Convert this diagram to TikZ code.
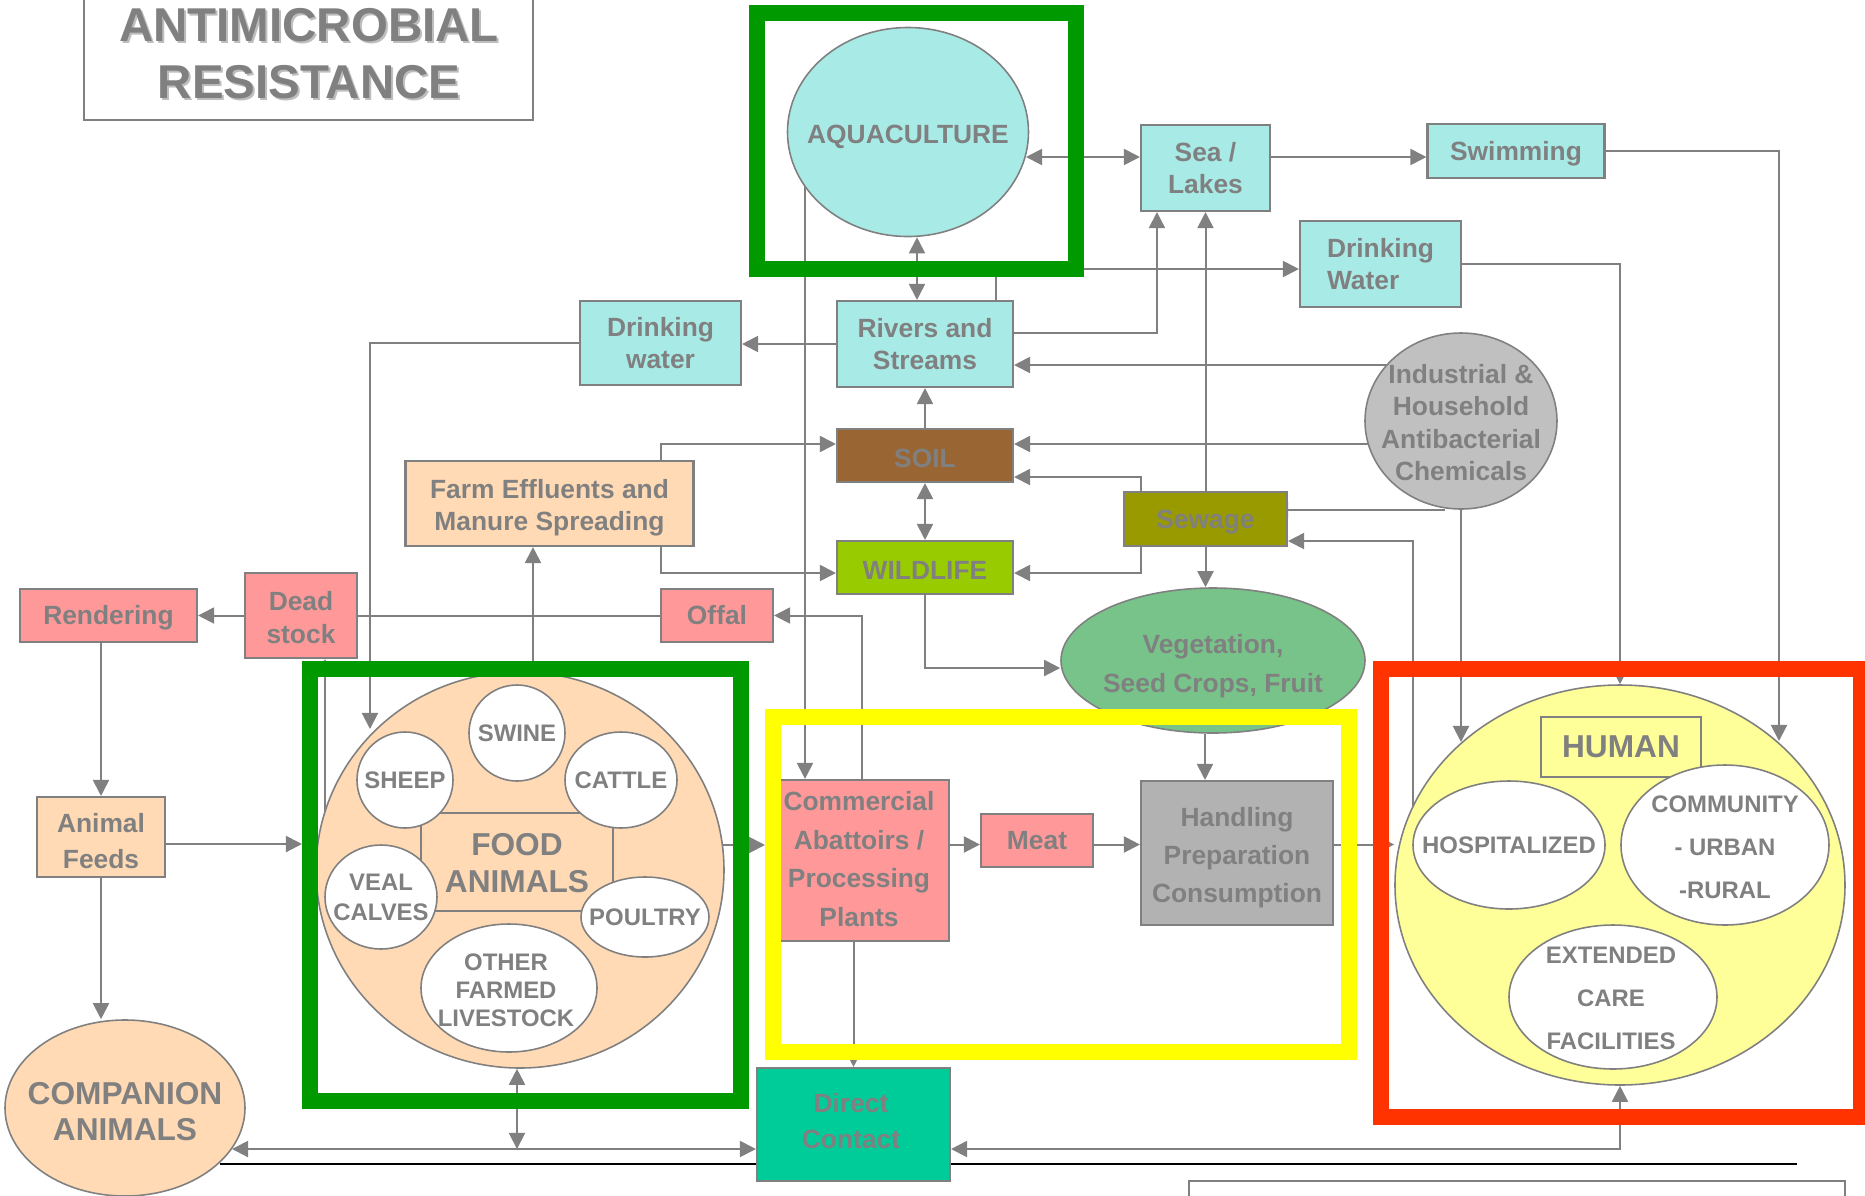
\documentclass[tikz,border=0pt]{standalone}
\usepackage{fontspec}
\setmainfont{Liberation Sans}
\usetikzlibrary{shapes.geometric,arrows.meta}

\definecolor{linegray}{RGB}{128,128,128}
\definecolor{shadowgray}{RGB}{190,190,190}
\definecolor{aquafill}{RGB}{168,234,230}
\definecolor{pinkfill}{RGB}{255,153,153}
\definecolor{peachfill}{RGB}{255,218,181}
\definecolor{soilfill}{RGB}{153,102,51}
\definecolor{wildfill}{RGB}{153,204,0}
\definecolor{sewfill}{RGB}{153,153,0}
\definecolor{vegfill}{RGB}{119,195,137}
\definecolor{handfill}{RGB}{178,178,178}
\definecolor{chemfill}{RGB}{192,192,192}
\definecolor{directfill}{RGB}{0,204,153}
\definecolor{humanfill}{RGB}{255,255,153}
\definecolor{framegreen}{RGB}{0,153,0}
\definecolor{frameyellow}{RGB}{255,255,0}
\definecolor{framered}{RGB}{255,51,0}

\pgfdeclarelayer{background}
\pgfsetlayers{background,main}

\tikzset{
  sz/.style 2 args={minimum width=#1*0.01cm, minimum height=#2*0.01cm},
  lead/.style={font=\fontsize{7.5}{#1}\selectfont\bfseries},
  flowbox/.style={draw=linegray, line width=0.6pt, inner sep=0pt, align=center, text=linegray, lead=9.2},
  oval/.style={ellipse, draw=linegray, line width=0.45pt, inner sep=0pt},
  lbl/.style={inner sep=0pt, align=center, text=linegray, lead=9.2},
  inlbl/.style={lbl, font=\fontsize{6.8}{#1}\selectfont\bfseries},
  biglbl/.style={lbl, font=\fontsize{9}{#1}\selectfont\bfseries},
  titletxt/.style={inner sep=0pt, align=center, text=linegray, font=\fontsize{13.5}{16.2}\selectfont\bfseries},
  zone/.style={draw=#1, line width=4.55pt, inner sep=0pt},
  conn/.style={draw=linegray, line width=0.57pt},
  arr/.style={conn, -{Triangle[length=4.6pt,width=4.6pt]}},
  dblarr/.style={conn, {Triangle[length=4.6pt,width=4.6pt]}-{Triangle[length=4.6pt,width=4.6pt]}},
}

\begin{document}
\begin{tikzpicture}[x=0.01cm, y=-0.01cm]
\useasboundingbox (0,0) rectangle (1865,1196);

% title
\node[draw=linegray, line width=0.5pt, sz={449}{135}] (titlebox) at (308.5,52.5) {};
\node[titletxt, text=shadowgray] (titleshadow) at (311,56) {ANTIMICROBIAL\\RESISTANCE};
\node[titletxt] (title) at (309,53.5) {ANTIMICROBIAL\\RESISTANCE};

% water
\node[oval, fill=aquafill, sz={241}{209}] (aqua) at (908,132) {};
\node[lbl] (aquatxt) at (908,137) {AQUACULTURE};
\node[flowbox, fill=aquafill, sz={129}{86}] (sea) at (1205.5,168) {Sea /\\Lakes};
\node[flowbox, fill=aquafill, sz={177}{54}] (swim) at (1516,151) {};
\node[lbl] (swimtxt) at (1516,154) {Swimming};
\node[flowbox, fill=aquafill, sz={161}{86}, align=left] (drinkr) at (1380.5,264) {Drinking\\Water};
\node[flowbox, fill=aquafill, sz={176}{86}] (rivers) at (925,344) {Rivers and\\Streams};
\node[flowbox, fill=aquafill, sz={161}{84}] (drinkl) at (660.5,343) {Drinking\\water};

% environment
\node[flowbox, fill=soilfill, sz={176}{53}] (soil) at (925,455.5) {};
\node[lbl] (soiltxt) at (925,458) {SOIL};
\node[flowbox, fill=wildfill, sz={176}{53}] (wildlife) at (925,567.5) {};
\node[lbl] (wildtxt) at (925,570) {WILDLIFE};
\node[oval, fill=chemfill, sz={192}{176}] (chem) at (1461,421) {};
\node[lbl] (chemtxt) at (1461,422.5) {Industrial \&\\Household\\Antibacterial\\Chemicals};
\node[flowbox, fill=sewfill, sz={163}{54}] (sewage) at (1205.5,519) {};
\node[lbl] (sewtxt) at (1205.5,522) {Sewage};
\node[oval, fill=vegfill, sz={304}{145}] (veg) at (1213,660.5) {};
\node[lbl, lead=11.1] (vegtxt) at (1213,666) {Vegetation,\\Seed Crops, Fruit};
\node[flowbox, fill=peachfill, sz={288}{85}] (farm) at (549.5,503.5) {};
\node[lbl] (farmtxt) at (549.5,507.5) {Farm Effluents and\\Manure Spreading};

% animal side
\node[flowbox, fill=pinkfill, sz={112}{53}] (offal) at (717,615.5) {Offal};
\node[flowbox, fill=pinkfill, sz={112}{85}] (dead) at (301,615.5) {};
\node[lbl] (deadtxt) at (301,617.5) {Dead\\stock};
\node[flowbox, fill=pinkfill, sz={177}{53}] (render) at (108.5,615.5) {};
\node[lbl] (rendertxt) at (108.5,618) {Rendering};
\node[flowbox, fill=peachfill, sz={128}{80}] (feeds) at (101,837) {};
\node[lbl, lead=10] (feedstxt) at (101,841) {Animal\\Feeds};
\node[oval, fill=peachfill, sz={240}{176}] (compan) at (125,1108) {};
\node[biglbl=10.2] (compantxt) at (125,1112) {COMPANION\\ANIMALS};

\node[oval, fill=peachfill, sz={408}{396}] (food) at (520,870) {};
\node[draw=linegray, line width=0.45pt, sz={192}{98}] (foodbox) at (517,862) {};
\node[biglbl=10.5] (foodtxt) at (517,863) {FOOD\\ANIMALS};
\node[oval, fill=white, sz={96}{96}] (swine) at (517,733) {};
\node[oval, fill=white, sz={96}{96}] (sheep) at (405,780) {};
\node[oval, fill=white, sz={112}{96}] (cattle) at (621,780) {};
\node[oval, fill=white, sz={112}{104}] (veal) at (381,897) {};
\node[oval, fill=white, sz={128}{80}] (poultry) at (645,917) {};
\node[oval, fill=white, sz={176}{128}] (other) at (509,988) {};
\node[inlbl=8.5] (swinetxt) at (swine) {SWINE};
\node[inlbl=8.5] (sheeptxt) at (sheep) {SHEEP};
\node[inlbl=8.5] (cattletxt) at (cattle) {CATTLE};
\node[inlbl=8.5] (vealtxt) at (veal) {VEAL\\CALVES};
\node[inlbl=8.5] (poultrytxt) at (poultry) {POULTRY};
\node[inlbl=8] (othertxt) at (506,990) {OTHER\\FARMED\\LIVESTOCK};

% food chain
\node[flowbox, fill=pinkfill, sz={174}{161}, lead=11] (abat) at (862,860.5) {};
\node[lbl, lead=11] (abattxt) at (859,859) {Commercial\\Abattoirs /\\Processing\\Plants};
\node[flowbox, fill=pinkfill, sz={112}{53}] (meat) at (1037,840.5) {Meat};
\node[flowbox, fill=handfill, sz={192}{144}] (handling) at (1237,853) {};
\node[lbl, lead=10.8] (handtxt) at (1237,858) {Handling\\Preparation\\Consumption};
\node[flowbox, fill=directfill, sz={193}{113}] (direct) at (853.5,1124.5) {};
\node[lbl, lead=10.4] (directtxt) at (851,1121) {Direct\\Contact};

% human
\node[oval, fill=humanfill, sz={450}{400}] (human) at (1620,885) {};
\node[draw=linegray, line width=0.5pt, inner sep=0pt, sz={160}{60}, text=linegray, font=\fontsize{9}{10}\selectfont\bfseries] (humantxt) at (1621,747) {HUMAN};
\node[oval, fill=white, sz={192}{128}] (hosp) at (1509,845) {};
\node[oval, fill=white, sz={208}{160}] (commun) at (1725,845) {};
\node[oval, fill=white, sz={208}{144}] (extcare) at (1613,997) {};
\node[inlbl=12.2] (hosptxt) at (hosp) {HOSPITALIZED};
\node[inlbl=12.2] (communtxt) at (1725,847) {COMMUNITY\\- URBAN\\-RURAL};
\node[inlbl=12.2] (extcaretxt) at (1611,998) {EXTENDED\\CARE\\FACILITIES};

% coloured frames
\node[zone=framegreen, sz={319}{256}] (aquazone) at (916.5,141) {};
\node[zone=framegreen, sz={431}{432}] (foodzone) at (525.5,885) {};
\node[zone=frameyellow, sz={576}{335}] (chainzone) at (1061,884.5) {};
\node[zone=framered, sz={480}{448}] (humanzone) at (1621,893) {};

% free ends on the ovals
\coordinate (aqsea) at (1026,157);
\coordinate (aqabat) at (805,175);
\coordinate (swimhum) at (1779,741);
\coordinate (chemriv) at (1400,365);
\coordinate (chemsoil) at (1380,444);
\coordinate (chemhum) at (1461,742);
\coordinate (humsew) at (1413,815);
\coordinate (farmfoot) at (533,680);
\coordinate (fooddead) at (325,815);
\coordinate (drinkfood) at (370,729);
\coordinate (foodabat) at (715,845);
\coordinate (compdir) at (232,1149);

\begin{pgfonlayer}{background}
\draw[black, line width=0.5pt] (220,1164) -- (1797,1164);
\draw[linegray, line width=0.6pt] (1189,1210) |- (1845,1181) -- (1845,1210);

% water
\draw[dblarr] (aqsea) -- (aqsea -| sea.west);
\draw[arr] ([yshift=0.11cm]sea.east) -- ([yshift=0.11cm]sea.east -| swim.west);
\draw[arr] (swim.east) -| (swimhum);
\draw[arr] ([xshift=0.71cm]rivers.north) |- ([yshift=-0.05cm]drinkr.west);
\draw[arr] (drinkr.east) -| (human.north);
\draw[dblarr] ([xshift=-0.08cm]rivers.north) -- ([xshift=-0.08cm]rivers.north |- aqua.south);
\draw[arr] (rivers.west) -- (rivers.west -| drinkl.east);
\draw[arr] ([yshift=0.11cm]rivers.east) -| ([xshift=-0.485cm]sea.south);
\draw[arr] (soil.north) -- (rivers.south);
\draw[arr] (aqabat) -- (aqabat |- abat.north);

% chemicals and sewage
\draw[arr] (chemriv) -- (chemriv -| rivers.east);
\draw[arr] (chemsoil) -- (chemsoil -| soil.east);
\draw[arr] ([xshift=-0.16cm]chem.south) -- ([xshift=-0.16cm]chem.south -| sewage.east);
\draw[arr] (chem.south) -- (chemhum);
\draw[arr] (humsew) |- ([yshift=-0.22cm]sewage.east);
\draw[arr] (sewage.north) -- (sea.south);
\draw[arr] (sewage.south) -- (sewage.south |- veg.north);
\draw[arr] ([xshift=-0.645cm]sewage.north) |- ([yshift=-0.215cm]soil.east);
\draw[arr] ([xshift=-0.645cm]sewage.south) |- ([yshift=-0.055cm]wildlife.east);
\draw[dblarr] (soil.south) -- (wildlife.north);
\draw[arr] (wildlife.south) |- ([yshift=-0.075cm]veg.west);
\draw[arr] ([xshift=-0.08cm]veg.south) -- ([xshift=-0.08cm]veg.south |- handling.north);

% farm
\draw[arr] (farmfoot) -- (farmfoot |- farm.south);
\draw[arr] ([xshift=1.115cm]farm.north) |- ([yshift=0.115cm]soil.west);
\draw[arr] ([xshift=1.115cm]farm.south) |- ([yshift=-0.055cm]wildlife.west);
\draw[arr] (abat.north) |- (offal.east);
\draw[conn] (offal.west) -- (dead.east);
\draw[arr] (dead.west) -- (render.east);
\draw[arr] (fooddead) -- (fooddead |- dead.south);
\draw[arr] (drinkl.west) -| (drinkfood);
\draw[arr] (render.south -| feeds.north) -- (feeds.north);
\draw[arr] (feeds.south) -- (feeds.south |- compan.north);
\draw[arr] ([yshift=-0.07cm]feeds.east) -- ([yshift=-0.07cm]feeds.east -| foodzone.west);

% food chain
\draw[arr] (foodabat) -- (foodabat -| chainzone.west);
\draw[arr] ([yshift=-0.04cm]meat.west -| abat.east) -- ([yshift=-0.04cm]meat.west);
\draw[arr] ([yshift=-0.04cm]meat.east) -- ([yshift=-0.04cm]meat.east -| handling.west);
\draw[arr] ([yshift=-0.04cm]meat.east -| handling.east) -- ([yshift=-0.04cm]meat.east -| human.west);
\draw[arr] (direct.north |- abat.south) -- (direct.north);

% contact
\draw[dblarr] (compdir) -- (compdir -| direct.west);
\draw[dblarr] ([xshift=-0.03cm]food.south) -- ([xshift=-0.03cm]food.south |- compdir);
\draw[dblarr] (human.south) |- ([yshift=-0.245cm]direct.east);
\end{pgfonlayer}
\end{tikzpicture}
\end{document}
